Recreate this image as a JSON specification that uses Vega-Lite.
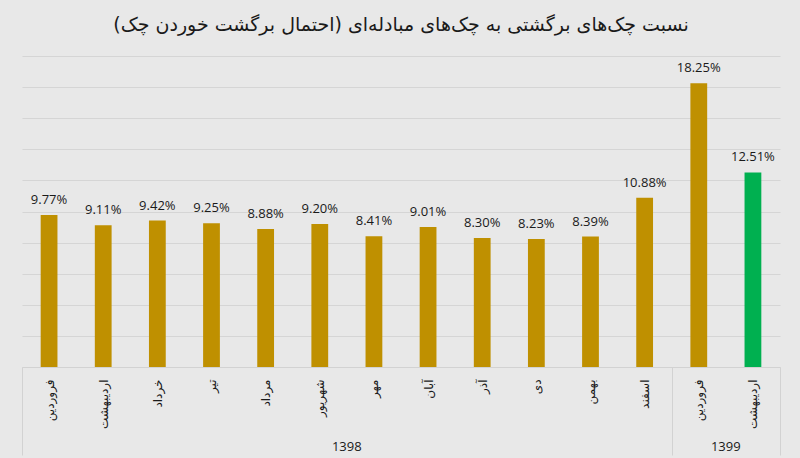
{
  "$schema": "https://vega.github.io/schema/vega-lite/v6.json",
  "width": 758,
  "height": 311,
  "autosize": "none",
  "padding": {"left": 22, "top": 56, "right": 20, "bottom": 91},
  "background": "#e8e8e8",
  "config": {"view": {"stroke": null}, "font": "DejaVu Sans"},
  "title": {
    "text": "نسبت چک‌های برگشتی به چک‌های مبادله‌ای (احتمال برگشت خوردن چک)",
    "fontSize": 19,
    "fontWeight": "normal",
    "font": "DejaVu Sans",
    "color": "#1a1a1a",
    "anchor": "middle",
    "offset": 21
  },
  "data": {
    "values": [
      {"key": "1398|فروردین", "rate": 0.0977},
      {"key": "1398|اردیبهشت", "rate": 0.0911},
      {"key": "1398|خرداد", "rate": 0.0942},
      {"key": "1398|تیر", "rate": 0.0925},
      {"key": "1398|مرداد", "rate": 0.0888},
      {"key": "1398|شهریور", "rate": 0.0920},
      {"key": "1398|مهر", "rate": 0.0841},
      {"key": "1398|آبان", "rate": 0.0901},
      {"key": "1398|آذر", "rate": 0.0830},
      {"key": "1398|دی", "rate": 0.0823},
      {"key": "1398|بهمن", "rate": 0.0839},
      {"key": "1398|اسفند", "rate": 0.1088},
      {"key": "1399|فروردین", "rate": 0.1825},
      {"key": "1399|اردیبهشت", "rate": 0.1251}
    ]
  },
  "layer": [
    {
      "mark": {"type": "bar", "width": {"band": 0.31}},
      "encoding": {
        "x": {
          "field": "key",
          "type": "nominal",
          "sort": null,
          "scale": {"paddingInner": 0, "paddingOuter": 0},
          "axis": {
            "title": null,
            "labelExpr": "split(datum.value, '|')[1]",
            "labelAngle": 270,
            "labelAlign": "right",
            "labelBaseline": "middle",
            "labelPadding": -76,
            "labelFontSize": 12,
            "labelFont": "DejaVu Sans",
            "labelColor": "#1a1a1a",
            "domainColor": "#d2d2d2",
            "tickBand": "extent",
            "tickSize": 88,
            "tickColor": "#d2d2d2",
            "tickOpacity": {"condition": {"test": "!isString(datum.value) || datum.value === '1398|اسفند' || datum.value === '1399|اردیبهشت'", "value": 1}, "value": 0},
            "grid": false
          }
        },
        "y": {
          "field": "rate",
          "type": "quantitative",
          "scale": {"domain": [0, 0.2]},
          "axis": {
            "title": null,
            "labels": false,
            "ticks": false,
            "domain": false,
            "grid": true,
            "gridColor": "#d5d5d5",
            "values": [0, 0.02, 0.04, 0.06, 0.08, 0.1, 0.12, 0.14, 0.16, 0.18, 0.2]
          }
        },
        "color": {
          "condition": {"test": "datum.key === '1399|اردیبهشت'", "value": "#00b050"},
          "value": "#bf9000"
        }
      }
    },
    {
      "mark": {"type": "text", "dy": -11, "baseline": "alphabetic", "fontSize": 13, "font": "Open Sans", "color": "#1a1a1a"},
      "encoding": {
        "x": {
          "field": "key",
          "type": "nominal",
          "sort": null,
          "scale": {"type": "band", "paddingInner": 0, "paddingOuter": 0},
          "axis": {
            "orient": "bottom",
            "title": null,
            "ticks": false,
            "domain": false,
            "grid": false,
            "labelAngle": 0,
            "labelExpr": "datum.value === '1398|شهریور' ? '1398' : (datum.value === '1399|فروردین' ? '1399' : '')",
            "labelOffset": 27,
            "labelPadding": 73,
            "labelOverlap": false,
            "labelFontSize": 13,
            "labelFont": "Open Sans",
            "labelColor": "#1a1a1a"
          }
        },
        "y": {
          "field": "rate",
          "type": "quantitative",
          "axis": {
            "title": null,
            "labels": false,
            "ticks": false,
            "domain": false,
            "grid": true,
            "gridColor": "#d5d5d5",
            "values": [0, 0.02, 0.04, 0.06, 0.08, 0.1, 0.12, 0.14, 0.16, 0.18, 0.2]
          }
        },
        "text": {"field": "rate", "format": ".2%"}
      }
    }
  ],
  "resolve": {"scale": {"x": "independent"}, "axis": {"x": "independent"}}
}
